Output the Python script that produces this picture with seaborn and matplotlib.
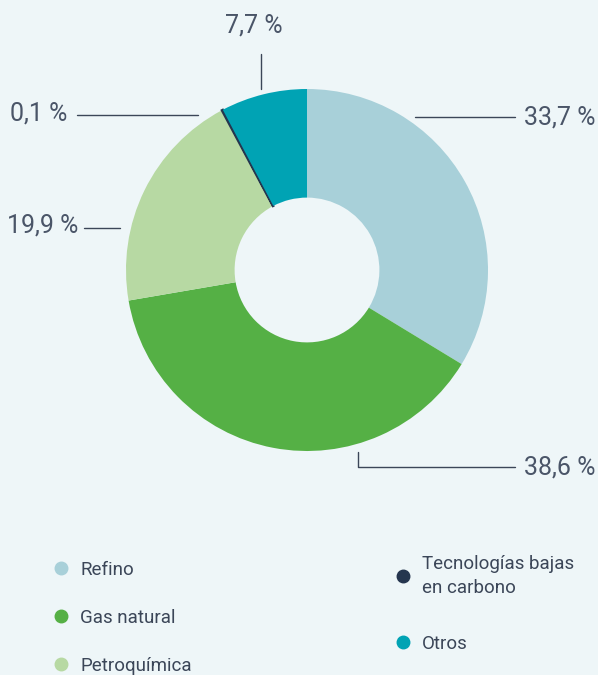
import matplotlib
matplotlib.use('Agg')
import matplotlib.pyplot as plt
import seaborn as sns
from matplotlib.lines import Line2D

# Data
categories = ['Refino', 'Gas natural', 'Petroquímica', 'Tecnologías bajas\nen carbono', 'Otros']
shares = [33.7, 38.6, 19.9, 0.1, 7.7]
share_labels = ['33,7 %', '38,6 %', '19,9 %', '0,1 %', '7,7 %']
colors = ['#a8d0d9', '#55b045', '#b7d9a3', '#25364f', '#00a3b4']

bg = '#eef6f8'
ink = '#3b4658'
ink_light = '#4a5568'

sns.set_theme(style='white')
plt.rcParams['font.family'] = ['Roboto', 'DejaVu Sans']

W, H, dpi = 598, 675, 100
cx, cy, R = 307, 270, 181

fig = plt.figure(figsize=(W / dpi, H / dpi), dpi=dpi, facecolor=bg)
ax = fig.add_axes([0, 0, 1, 1])
ax.set_facecolor(bg)


def px(x, y):
    # pixel position (from top-left) -> data coords, pie centre at origin
    return (x - cx) / R, (cy - y) / R


wedges, _ = ax.pie(shares, colors=colors, startangle=90, counterclock=False,
                   radius=1, wedgeprops=dict(width=0.6, linewidth=0))
wedges[3].set_edgecolor(colors[3])
wedges[3].set_linewidth(1.6)

# pie() resets the limits, so set them afterwards
ax.set_xlim((0 - cx) / R, (W - cx) / R)
ax.set_ylim((cy - H) / R, cy / R)
ax.set_aspect('auto')
ax.axis('off')

# leader lines and labels
lbl = dict(color=ink_light, fontsize=18, fontweight='normal', va='center')
line = dict(color=ink, lw=1)

# 33,7
(x0, y0), (x1, y1) = px(415, 117), px(515, 117)
ax.plot([x0, x1], [y0, y1], **line)
ax.text(*px(524, 117), share_labels[0], ha='left', **lbl)
# 38,6
pts = [px(358, 452), px(358, 467), px(515, 467)]
ax.plot([p[0] for p in pts], [p[1] for p in pts], **line)
ax.text(*px(524, 467), share_labels[1], ha='left', **lbl)
# 19,9
(x0, y0), (x1, y1) = px(84, 228), px(120, 228)
ax.plot([x0, x1], [y0, y1], **line)
ax.text(*px(78, 226), share_labels[2], ha='right', **lbl)
# 0,1
(x0, y0), (x1, y1) = px(77, 115), px(198, 115)
ax.plot([x0, x1], [y0, y1], **line)
ax.text(*px(67, 113), share_labels[3], ha='right', **lbl)
# 7,7
(x0, y0), (x1, y1) = px(261, 54), px(261, 89)
ax.plot([x0, x1], [y0, y1], **line)
ax.text(*px(254, 25), share_labels[4], ha='center', **lbl)

# legend: two separate columns
handles = [Line2D([], [], marker='o', ls='none', markersize=9,
                  markerfacecolor=c, markeredgecolor=c) for c in colors]
leg_kw = dict(loc='upper left', frameon=False, fontsize=13.5, labelcolor=ink,
              handlelength=1.0, handletextpad=0.5, borderaxespad=0, borderpad=0)
fig.legend(handles[:3], categories[:3], bbox_to_anchor=(52 / W, 1 - 561 / H),
           labelspacing=1.6, **leg_kw)
leg2 = fig.legend(handles[3:], categories[3:], bbox_to_anchor=(394 / W, 1 - 555 / H),
                  labelspacing=2.05, **leg_kw)
for t in leg2.get_texts():
    t.set_linespacing(1.4)

fig.savefig('out.png', dpi=dpi, facecolor=bg)
